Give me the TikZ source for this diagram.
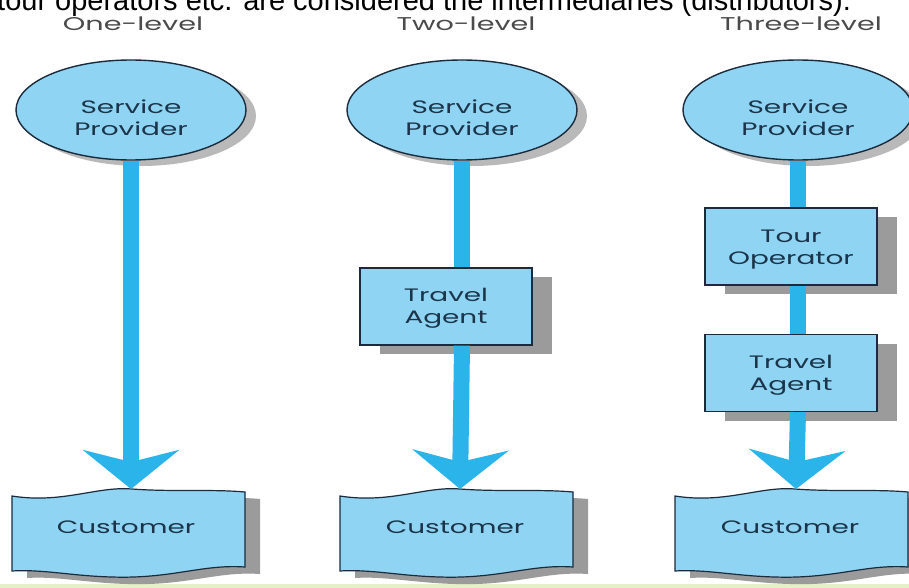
\documentclass[tikz,border=0pt]{standalone}
\usepackage{fontspec}
\setmainfont{Poppins}
\newfontfamily\topfont{Liberation Sans}
\usetikzlibrary{shapes.geometric, arrows.meta, shadows}
\definecolor{fillblue}{HTML}{8FD4F2}
\definecolor{shaftblue}{HTML}{2BB4EA}
\definecolor{edgecol}{HTML}{1B2B3C}
\definecolor{txtcol}{HTML}{1B344A}
\definecolor{shadcol}{HTML}{9B9B9B}
\definecolor{titlegray}{HTML}{4A4A4A}
\definecolor{stripcol}{HTML}{E6F0C8}
\newcommand{\sx}[1]{\scalebox{1.55}[1]{#1}}
\newcommand{\custpath}{(0,496) .. controls (50,504) and (85,486) .. (120,489) .. controls (160,492) and (200,489) .. (233,492) -- (233,567) .. controls (190,564) and (160,579) .. (100,577) .. controls (60,576) and (30,569) .. (0,571) -- cycle}
\begin{document}
\begin{tikzpicture}[x=1pt,y=-1pt,
  provider/.style={ellipse, draw=edgecol, line width=1.4pt, fill=fillblue,
    minimum width=230pt, minimum height=100pt, inner sep=0pt,
    drop shadow={shadow xshift=10pt, shadow yshift=-6pt, fill=shadcol!70, opacity=1}},
  nodetext/.style={text=txtcol, font=\fontsize{18}{22}\selectfont, align=center, inner sep=0pt},
  midbox/.style={rectangle, draw=edgecol, line width=1.2pt, fill=fillblue,
    minimum width=172pt, minimum height=77pt, inner sep=0pt,
    drop shadow={shadow xshift=20pt, shadow yshift=-9pt, fill=shadcol, opacity=1}},
  leveltitle/.style={text=titlegray, font=\fontsize{18.5}{21}\selectfont, inner sep=0pt},
  shaft/.style={draw=shaftblue, line width=16pt},
  bighead/.style={-{Stealth[length=39pt, width=96pt, inset=12pt]}},
  custshape/.style={fill=fillblue, draw=edgecol, line width=1.2pt},
  custshadow/.style={fill=shadcol}
]
\useasboundingbox (0,0) rectangle (909,588);
\clip (0,0) rectangle (909,588);
\fill[white] (0,0) rectangle (909,588);
\fill[stripcol] (0,584) rectangle (909,588);

% top running text (cut by the upper edge, as in the reference)
\node[anchor=base west, inner sep=0pt, font=\topfont\fontsize{29}{32}\selectfont] (toptext) at (-3,11)
  {tour operators etc. are considered the intermediaries (distributors).};

% titles
\node[leveltitle] (t1) at (133,24) {\sx{One-level}};
\node[leveltitle] (t2) at (466,24) {\sx{Two-level}};
\node[leveltitle] (t3) at (801,24) {\sx{Three-level}};

% customer shapes
\begin{scope}[shift={(12,0)}]
  \fill[custshadow, shift={(15,7)}] \custpath;
  \filldraw[custshape] \custpath;
\end{scope}
\begin{scope}[shift={(340,0)}]
  \fill[custshadow, shift={(15,7)}] \custpath;
  \filldraw[custshape] \custpath;
\end{scope}
\begin{scope}[shift={(675,0)}]
  \fill[custshadow, shift={(15,7)}] \custpath;
  \filldraw[custshape] \custpath;
\end{scope}
\node[nodetext] (cu1) at (126,527) {\sx{Customer}};
\node[nodetext] (cu2) at (455,527) {\sx{Customer}};
\node[nodetext] (cu3) at (790,527) {\sx{Customer}};
\coordinate (tip1) at (131,489);
\coordinate (tip2) at (460,489);
\coordinate (tip3) at (796,489);

% providers
\node[provider] (sp1) at (131,110) {};
\node[provider] (sp2) at (462,110) {};
\node[provider] (sp3) at (798,110) {};
\node[nodetext] (sp1t) at ([yshift=-8pt]sp1.center) {\sx{Service}\\\sx{Provider}};
\node[nodetext] (sp2t) at ([yshift=-8pt]sp2.center) {\sx{Service}\\\sx{Provider}};
\node[nodetext] (sp3t) at ([yshift=-8pt]sp3.center) {\sx{Service}\\\sx{Provider}};

% intermediaries
\node[midbox] (ta2) at (446,306.5) {};
\node[midbox] (to3) at (791,246.5) {};
\node[midbox] (ta3) at (791,373) {};
\node[nodetext] (ta2t) at ([yshift=-2pt]ta2.center) {\sx{Travel}\\\sx{Agent}};
\node[nodetext] (to3t) at ([yshift=-3pt]to3.center) {\sx{Tour}\\\sx{Operator}};
\node[nodetext] (ta3t) at ([yshift=-2pt]ta3.center) {\sx{Travel}\\\sx{Agent}};

% connectors
\draw[shaft, bighead] (sp1.south) -- (tip1);

\draw[shaft] (sp2.south) -- (sp2.south |- ta2.north);
\draw[shaft, bighead] (sp2.south |- ta2.south) -- (tip2);

\draw[shaft] (sp3.south) -- (sp3.south |- to3.north);
\draw[shaft] (sp3.south |- to3.south) -- (sp3.south |- ta3.north);
\draw[shaft, bighead] (sp3.south |- ta3.south) -- (tip3);
\end{tikzpicture}
\end{document}
